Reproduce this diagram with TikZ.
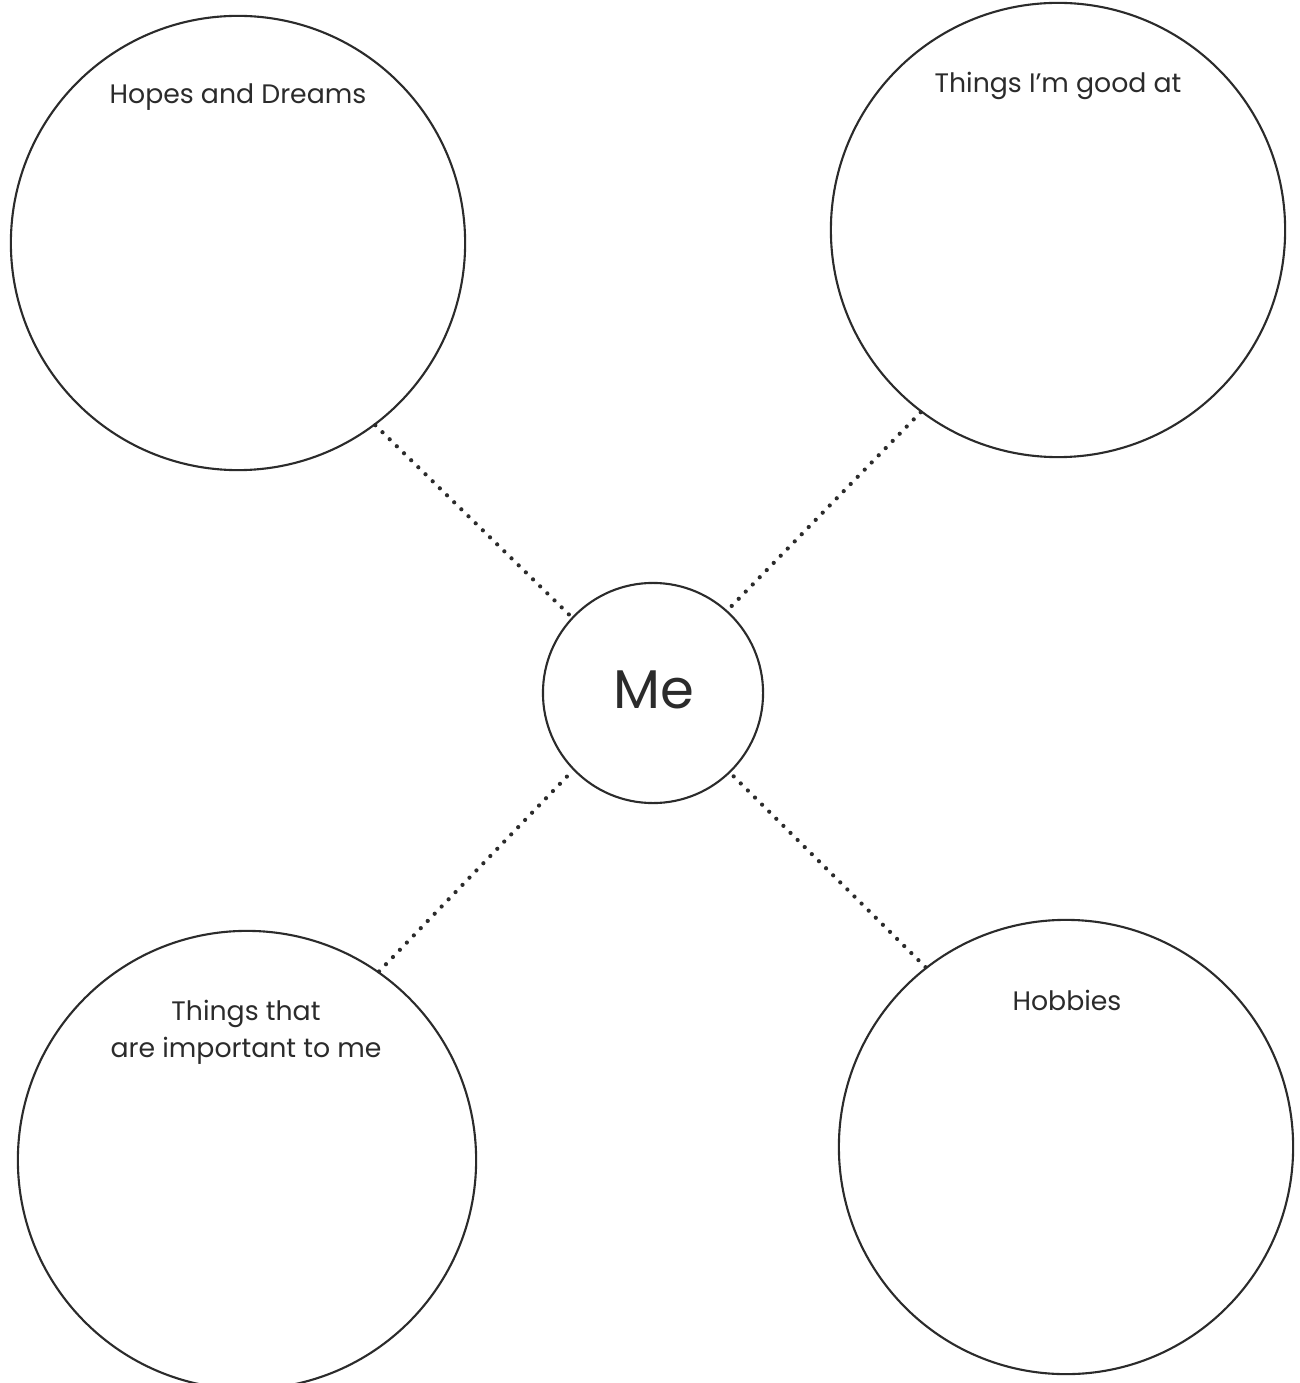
\documentclass[tikz,border=0pt]{standalone}
\usepackage{fontspec}
\setmainfont{Poppins}
\definecolor{ink}{HTML}{2B2B2B}
\tikzset{
  bubble/.style={draw=ink, circle, line width=0.6pt, inner sep=0pt},
  dots/.style={draw=ink, line width=1.2pt, line cap=round, dash pattern=on 0pt off 2.85pt},
  caption/.style={text=ink, font=\fontsize{7.6}{10.5}\selectfont, align=center}
}
\begin{document}
\begin{tikzpicture}[x=0.01cm, y=-0.01cm]
		\useasboundingbox (0,0) rectangle (1299,1383);
		\node[bubble, minimum size=4.54cm] (HD) at (238, 243) {};
		\node[bubble, minimum size=4.54cm] (GA) at (1058, 230) {};
		\node[bubble, minimum size=2.2cm] (ME) at (653, 693) {};
		\node[bubble, minimum size=4.58cm] (IM) at (247, 1160) {};
		\node[bubble, minimum size=4.54cm] (HB) at (1066, 1147) {};

		\node[caption] (HDt) at (238, 97) {Hopes and Dreams};
		\node[caption] (GAt) at (1058, 86) {Things I'm good at};
		\node[caption] (IMt) at (246, 1032) {Things that\\are important to me};
		\node[caption] (HBt) at (1067, 1000) {Hobbies};
		\node[text=ink, font=\fontsize{15.5}{18}\selectfont] (MEt) at (654, 690) {Me};

		\path (HD.-53) edge[dots] (ME.137)
		(GA.-127) edge[dots] (ME.48)
		(IM.55) edge[dots] (ME.-136)
		(HB.128) edge[dots] (ME.-46);

	\end{tikzpicture}
\end{document}
